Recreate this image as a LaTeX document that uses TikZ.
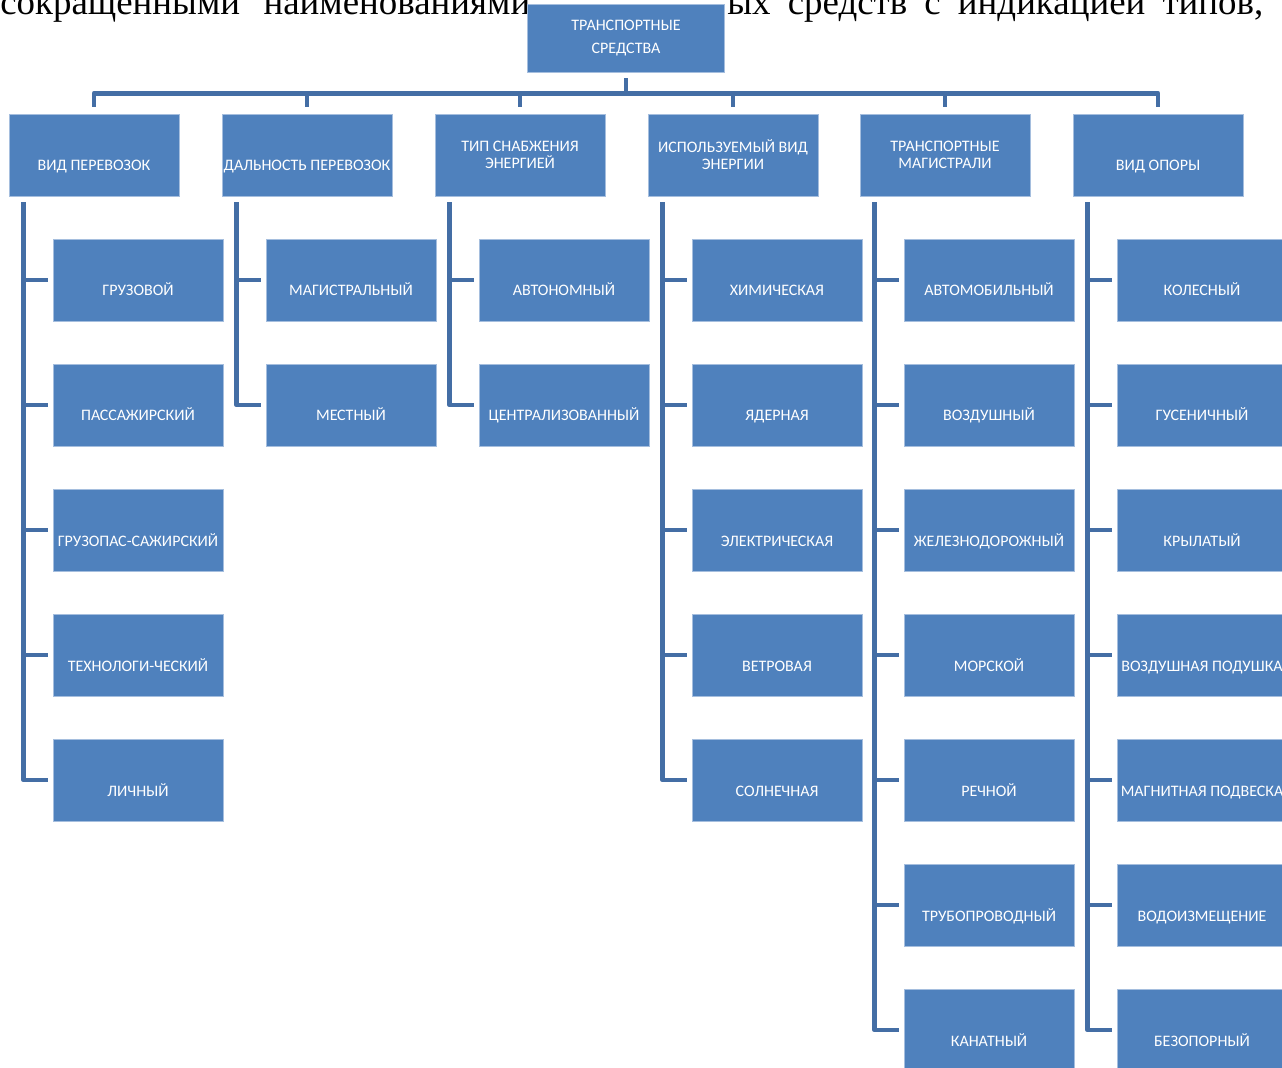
\documentclass[tikz,border=0pt]{standalone}
\usepackage{fontspec}
\setmainfont{Carlito}
\newfontfamily\pageserif{Liberation Serif}
\usepackage{tikz}

\definecolor{boxblue}{RGB}{79,129,189}
\definecolor{edgeblue}{RGB}{165,190,222}
\definecolor{linkblue}{RGB}{68,110,165}

\begin{document}
\begin{tikzpicture}[x=0.02cm, y=-0.02cm,
    box/.style={rectangle, fill=boxblue, draw=edgeblue, line width=0.4pt, text=white, inner sep=0pt, font=\fontsize{9.1}{9.7}\selectfont},
    root/.style={box, minimum width=3.94cm, minimum height=1.36cm, align=center, font=\fontsize{9.1}{13.5}\selectfont},
    group/.style={box, minimum width=3.4cm, minimum height=1.64cm},
    low/.style={text height=0.64cm, text depth=0pt},
    item/.style={group, low},
    link/.style={draw=linkblue, line width=2.8pt, line join=round}]
            \useasboundingbox (0,0) rectangle (1282,1068);
            \clip (0,0) rectangle (1282,1068);

            % page text behind the chart
            \node[anchor=base west, inner sep=0pt, font=\pageserif\fontsize{21}{25}\selectfont] (pl) at (0,15) {\makebox[10.6cm][l]{сокращенными\hfill наименованиями}};
            \node[anchor=base west, inner sep=0pt, font=\pageserif\fontsize{21}{25}\selectfont] (pr) at (727,15) {\makebox[10.72cm][l]{ых\hfill средств\hfill с\hfill индикацией\hfill типов,}};

            \node[root] (T) at (626,38) {ТРАНСПОРТНЫЕ\\СРЕДСТВА};

            \node[group, low] (A) at (94,155) {ВИД ПЕРЕВОЗОК};
            \node[group, low] (B) at (307,155) {ДАЛЬНОСТЬ ПЕРЕВОЗОК};
            \node[group, align=center] (C) at (520,155) {ТИП СНАБЖЕНИЯ\\ЭНЕРГИЕЙ};
            \node[group, align=center] (D) at (733,155) {ИСПОЛЬЗУЕМЫЙ ВИД\\ЭНЕРГИИ};
            \node[group, align=center] (E) at (945,155) {ТРАНСПОРТНЫЕ\\МАГИСТРАЛИ};
            \node[group, low] (F) at (1158,155) {ВИД ОПОРЫ};

            \node[item] (A1) at (138,280) {ГРУЗОВОЙ};
            \node[item] (A2) at (138,405) {ПАССАЖИРСКИЙ};
            \node[item] (A3) at (138,530) {ГРУЗОПАС-САЖИРСКИЙ};
            \node[item] (A4) at (138,655) {ТЕХНОЛОГИ-ЧЕСКИЙ};
            \node[item] (A5) at (138,780) {ЛИЧНЫЙ};

            \node[item] (B1) at (351,280) {МАГИСТРАЛЬНЫЙ};
            \node[item] (B2) at (351,405) {МЕСТНЫЙ};

            \node[item] (C1) at (564,280) {АВТОНОМНЫЙ};
            \node[item] (C2) at (564,405) {ЦЕНТРАЛИЗОВАННЫЙ};

            \node[item] (D1) at (777,280) {ХИМИЧЕСКАЯ};
            \node[item] (D2) at (777,405) {ЯДЕРНАЯ};
            \node[item] (D3) at (777,530) {ЭЛЕКТРИЧЕСКАЯ};
            \node[item] (D4) at (777,655) {ВЕТРОВАЯ};
            \node[item] (D5) at (777,780) {СОЛНЕЧНАЯ};

            \node[item] (E1) at (989,280) {АВТОМОБИЛЬНЫЙ};
            \node[item] (E2) at (989,405) {ВОЗДУШНЫЙ};
            \node[item] (E3) at (989,530) {ЖЕЛЕЗНОДОРОЖНЫЙ};
            \node[item] (E4) at (989,655) {МОРСКОЙ};
            \node[item] (E5) at (989,780) {РЕЧНОЙ};
            \node[item] (E6) at (989,905) {ТРУБОПРОВОДНЫЙ};
            \node[item] (E7) at (989,1030) {КАНАТНЫЙ};

            \node[item] (F1) at (1202,280) {КОЛЕСНЫЙ};
            \node[item] (F2) at (1202,405) {ГУСЕНИЧНЫЙ};
            \node[item] (F3) at (1202,530) {КРЫЛАТЫЙ};
            \node[item] (F4) at (1202,655) {\makebox[0pt]{ВОЗДУШНАЯ ПОДУШКА}};
            \node[item] (F5) at (1202,780) {\makebox[0pt]{МАГНИТНАЯ ПОДВЕСКА}};
            \node[item] (F6) at (1202,905) {ВОДОИЗМЕЩЕНИЕ};
            \node[item] (F7) at (1202,1030) {БЕЗОПОРНЫЙ};

            \draw[link] ([yshift=-0.12cm]T.south) -- ([yshift=-0.42cm]T.south) -| ([yshift=0.14cm]A.north);
            \draw[link] ([yshift=-0.12cm]T.south) -- ([yshift=-0.42cm]T.south) -| ([yshift=0.14cm]B.north);
            \draw[link] ([yshift=-0.12cm]T.south) -- ([yshift=-0.42cm]T.south) -| ([yshift=0.14cm]C.north);
            \draw[link] ([yshift=-0.12cm]T.south) -- ([yshift=-0.42cm]T.south) -| ([yshift=0.14cm]D.north);
            \draw[link] ([yshift=-0.12cm]T.south) -- ([yshift=-0.42cm]T.south) -| ([yshift=0.14cm]E.north);
            \draw[link] ([yshift=-0.12cm]T.south) -- ([yshift=-0.42cm]T.south) -| ([yshift=0.14cm]F.north);

            \draw[link] ([xshift=0.3cm,yshift=-0.12cm]A.south west) |- ([xshift=-0.1cm]A1.west);
            \draw[link] ([xshift=0.3cm,yshift=-0.12cm]A.south west) |- ([xshift=-0.1cm]A2.west);
            \draw[link] ([xshift=0.3cm,yshift=-0.12cm]A.south west) |- ([xshift=-0.1cm]A3.west);
            \draw[link] ([xshift=0.3cm,yshift=-0.12cm]A.south west) |- ([xshift=-0.1cm]A4.west);
            \draw[link] ([xshift=0.3cm,yshift=-0.12cm]A.south west) |- ([xshift=-0.1cm]A5.west);

            \draw[link] ([xshift=0.3cm,yshift=-0.12cm]B.south west) |- ([xshift=-0.1cm]B1.west);
            \draw[link] ([xshift=0.3cm,yshift=-0.12cm]B.south west) |- ([xshift=-0.1cm]B2.west);

            \draw[link] ([xshift=0.3cm,yshift=-0.12cm]C.south west) |- ([xshift=-0.1cm]C1.west);
            \draw[link] ([xshift=0.3cm,yshift=-0.12cm]C.south west) |- ([xshift=-0.1cm]C2.west);

            \draw[link] ([xshift=0.3cm,yshift=-0.12cm]D.south west) |- ([xshift=-0.1cm]D1.west);
            \draw[link] ([xshift=0.3cm,yshift=-0.12cm]D.south west) |- ([xshift=-0.1cm]D2.west);
            \draw[link] ([xshift=0.3cm,yshift=-0.12cm]D.south west) |- ([xshift=-0.1cm]D3.west);
            \draw[link] ([xshift=0.3cm,yshift=-0.12cm]D.south west) |- ([xshift=-0.1cm]D4.west);
            \draw[link] ([xshift=0.3cm,yshift=-0.12cm]D.south west) |- ([xshift=-0.1cm]D5.west);

            \draw[link] ([xshift=0.3cm,yshift=-0.12cm]E.south west) |- ([xshift=-0.1cm]E1.west);
            \draw[link] ([xshift=0.3cm,yshift=-0.12cm]E.south west) |- ([xshift=-0.1cm]E2.west);
            \draw[link] ([xshift=0.3cm,yshift=-0.12cm]E.south west) |- ([xshift=-0.1cm]E3.west);
            \draw[link] ([xshift=0.3cm,yshift=-0.12cm]E.south west) |- ([xshift=-0.1cm]E4.west);
            \draw[link] ([xshift=0.3cm,yshift=-0.12cm]E.south west) |- ([xshift=-0.1cm]E5.west);
            \draw[link] ([xshift=0.3cm,yshift=-0.12cm]E.south west) |- ([xshift=-0.1cm]E6.west);
            \draw[link] ([xshift=0.3cm,yshift=-0.12cm]E.south west) |- ([xshift=-0.1cm]E7.west);

            \draw[link] ([xshift=0.3cm,yshift=-0.12cm]F.south west) |- ([xshift=-0.1cm]F1.west);
            \draw[link] ([xshift=0.3cm,yshift=-0.12cm]F.south west) |- ([xshift=-0.1cm]F2.west);
            \draw[link] ([xshift=0.3cm,yshift=-0.12cm]F.south west) |- ([xshift=-0.1cm]F3.west);
            \draw[link] ([xshift=0.3cm,yshift=-0.12cm]F.south west) |- ([xshift=-0.1cm]F4.west);
            \draw[link] ([xshift=0.3cm,yshift=-0.12cm]F.south west) |- ([xshift=-0.1cm]F5.west);
            \draw[link] ([xshift=0.3cm,yshift=-0.12cm]F.south west) |- ([xshift=-0.1cm]F6.west);
            \draw[link] ([xshift=0.3cm,yshift=-0.12cm]F.south west) |- ([xshift=-0.1cm]F7.west);
        \end{tikzpicture}
\end{document}
